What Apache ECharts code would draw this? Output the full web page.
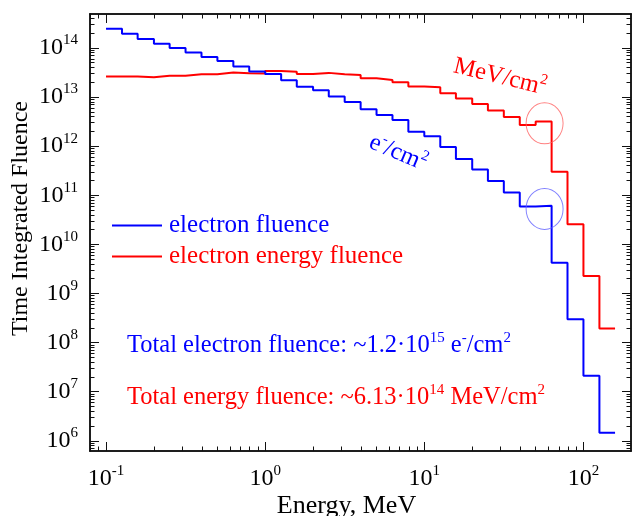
<!DOCTYPE html>
<html><head><meta charset="utf-8">
<script src="https://cdn.jsdelivr.net/npm/echarts@6/dist/echarts.min.js"></script>
<style>html,body{margin:0;padding:0;background:#fff}#c{width:638px;height:516px}</style>
</head><body><div id="c"></div>
<script>
// Bin edges (MeV)
const binEdges = [0.1, 0.126, 0.158, 0.2, 0.251, 0.316, 0.398, 0.501, 0.631, 0.794,
  1, 1.26, 1.58, 2, 2.51, 3.16, 3.98, 5.01, 6.31, 7.94,
  10, 12.6, 15.8, 20, 25.1, 31.6, 39.8, 50.1, 63.1, 79.4,
  100, 126, 158];
// electron fluence per bin (e-/cm2)
const electronFluence = [2.44e14, 1.95e14, 1.52e14, 1.22e14, 9.9e13, 8.1e13, 6.5e13, 5.4e13, 4.2e13, 3.3e13,
  2.95e13, 2.2e13, 1.61e13, 1.38e13, 1.02e13, 7.9e12, 5.65e12, 4.3e12, 3.4e12, 1.97e12,
  1.58e12, 9.6e11, 5.5e11, 3.35e11, 1.95e11, 1.14e11, 5.9e10, 6.1e10, 4.2e9, 3.0e8,
  2.1e7, 1.46e6];
// electron energy fluence per bin (MeV/cm2)
const energyFluence = [2.62e13, 2.62e13, 2.52e13, 2.72e13, 2.72e13, 2.9e13, 2.9e13, 3.15e13, 3.05e13, 3.0e13,
  3.4e13, 3.25e13, 2.95e13, 3.1e13, 2.9e13, 2.82e13, 2.41e13, 2.23e13, 2.0e13, 1.63e13,
  1.58e13, 1.19e13, 9.3e12, 7.2e12, 5.3e12, 3.9e12, 2.7e12, 3.16e12, 3.0e11, 2.57e10,
  2.27e9, 1.94e8];
// circled points
const electronCircle = [[57, 5.26e10]];
const energyCircle = [[57, 2.92e12]];
// ticks
const xMajorTicks = [0.1, 1, 10, 100];
const yMajorTicks = [1e6, 1e7, 1e8, 1e9, 1e10, 1e11, 1e12, 1e13, 1e14];
const minorMultipliers = [2, 3, 4, 5, 6, 7, 8, 9];
const X_MIN = 0.0793, X_MAX = 199, Y_MIN = 6.2e5, Y_MAX = 4.9e14;

function minorFor(majors, lo, hi) {
  const out = [];
  [majors[0] / 10].concat(majors).forEach(m => minorMultipliers.forEach(k => {
    const v = m * k; if (v > lo && v < hi) out.push(v);
  }));
  return out;
}
const xMinorTicks = minorFor(xMajorTicks, X_MIN, X_MAX);
const yMinorTicks = minorFor(yMajorTicks, Y_MIN, Y_MAX);

function steps(vals) {
  const d = vals.map((v, i) => [binEdges[i], v]);
  d.push([binEdges[binEdges.length - 1], vals[vals.length - 1]]);
  return d;
}

const FONT = 'Liberation Serif';
const richLbl = {
  b: {fontSize: 24, fontFamily: FONT, color: '#000', lineHeight: 30},
  s: {fontSize: 15, fontFamily: FONT, color: '#000', lineHeight: 18, verticalAlign: 'top'}
};
const powFmt = v => '{b|10}{s|' + Math.round(Math.log10(v)) + '}';
const axisLineStyle = {color: '#111', width: 1.5};

function xAx(pos, major, withLabel) {
  const a = {
    type: 'log', logBase: 10, min: X_MIN, max: X_MAX, position: pos,
    axisLine: {show: true, lineStyle: axisLineStyle},
    axisTick: {show: true, inside: true, length: major ? 9 : 4.5, lineStyle: {color: '#111', width: 1},
      customValues: major ? xMajorTicks : xMinorTicks},
    axisLabel: {show: false},
    splitLine: {show: false}, minorTick: {show: false}
  };
  if (withLabel) {
    a.axisLabel = {show: true, customValues: xMajorTicks, formatter: powFmt, rich: richLbl, margin: 13};
    a.name = 'Energy, MeV';
    a.nameLocation = 'middle';
    a.nameGap = 42;
    a.nameMoveOverlap = false;
    a.nameTextStyle = {fontSize: 26, fontFamily: FONT, color: '#000', padding: [0, 28, 0, 0]};
  }
  return a;
}
function yAx(pos, major, withLabel) {
  const a = {
    type: 'log', logBase: 10, min: Y_MIN, max: Y_MAX, position: pos,
    axisLine: {show: true, lineStyle: axisLineStyle},
    axisTick: {show: true, inside: true, length: major ? 9 : 4.5, lineStyle: {color: '#111', width: 1},
      customValues: major ? yMajorTicks : yMinorTicks},
    axisLabel: {show: false},
    splitLine: {show: false}, minorTick: {show: false}
  };
  if (withLabel) {
    a.axisLabel = {show: true, customValues: yMajorTicks, formatter: powFmt, rich: richLbl, margin: 12};
    a.name = 'Time Integrated Fluence';
    a.nameLocation = 'middle';
    a.nameGap = 57;
    a.nameMoveOverlap = false;
    a.nameTextStyle = {fontSize: 24, fontFamily: FONT, color: '#000', padding: [0, 0, 0, 28]};
  }
  return a;
}

const sup = (fill) => ({
  a: {fontSize: 24.5, fontFamily: FONT, fill: fill, lineHeight: 30},
  s: {fontSize: 15, fontFamily: FONT, fill: fill, lineHeight: 18, verticalAlign: 'top'}
});
function txt(x, y, text, fill, rot, align) {
  return {
    type: 'text', x: x, y: y, rotation: rot || 0, silent: true,
    style: {text: text, fill: fill, rich: sup(fill), fontSize: 24.5, fontFamily: FONT,
      align: align || 'left', verticalAlign: 'middle', textAlign: align || 'left', textVerticalAlign: 'middle'}
  };
}

const chart = echarts.init(document.getElementById('c'));
chart.setOption({
  animation: false,
  backgroundColor: '#fff',
  grid: {left: 90, right: 7, top: 14, bottom: 65, containLabel: false, outerBoundsMode: 'none'},
  xAxis: [xAx('bottom', true, true), xAx('bottom', false, false), xAx('top', true, false), xAx('top', false, false)],
  yAxis: [yAx('left', true, true), yAx('left', false, false), yAx('right', true, false), yAx('right', false, false)],
  legend: {
    left: 112, top: 213, padding: 0, orient: 'vertical', itemWidth: 50, itemHeight: 2, itemGap: 6,
    textStyle: {fontSize: 25, fontFamily: FONT, padding: [0, 0, 0, 2]},
    data: [{name: 'electron fluence', icon: 'rect', textStyle: {color: '#0000ff'}},
           {name: 'electron energy fluence', icon: 'rect', textStyle: {color: '#ff0000'}}]
  },
  series: [
    {name: 'electron fluence', type: 'line', step: 'end', symbol: 'none', data: steps(electronFluence),
      lineStyle: {color: '#0000ff', width: 2}, itemStyle: {color: '#0000ff'}, z: 3},
    {name: 'electron energy fluence', type: 'line', step: 'end', symbol: 'none', data: steps(energyFluence),
      lineStyle: {color: '#ff0000', width: 2}, itemStyle: {color: '#ff0000'}, z: 2},
    {name: 'c1', type: 'scatter', data: energyCircle, symbol: 'circle', symbolSize: [37, 41], silent: true,
      itemStyle: {color: 'rgba(0,0,0,0)', borderColor: '#ff6060', borderWidth: 1}, z: 4},
    {name: 'c2', type: 'scatter', data: electronCircle, symbol: 'circle', symbolSize: [37, 41], silent: true,
      itemStyle: {color: 'rgba(0,0,0,0)', borderColor: '#6060ff', borderWidth: 1}, z: 4}
  ],
  graphic: [
    txt(500, 77, '{a|MeV/cm}{s|2}', '#ff0000', -0.24, 'center'),
    txt(398, 153, '{a|e}{s|-}{a|/cm}{s|2}', '#0000ff', -0.40, 'center'),
    txt(127, 346, '{a|Total electron fluence: ~1.2·10}{s|15}{a| e}{s|-}{a|/cm}{s|2}', '#0000ff'),
    txt(127, 398, '{a|Total energy fluence: ~6.13·10}{s|14}{a| MeV/cm}{s|2}', '#ff0000')
  ]
});
</script></body></html>
